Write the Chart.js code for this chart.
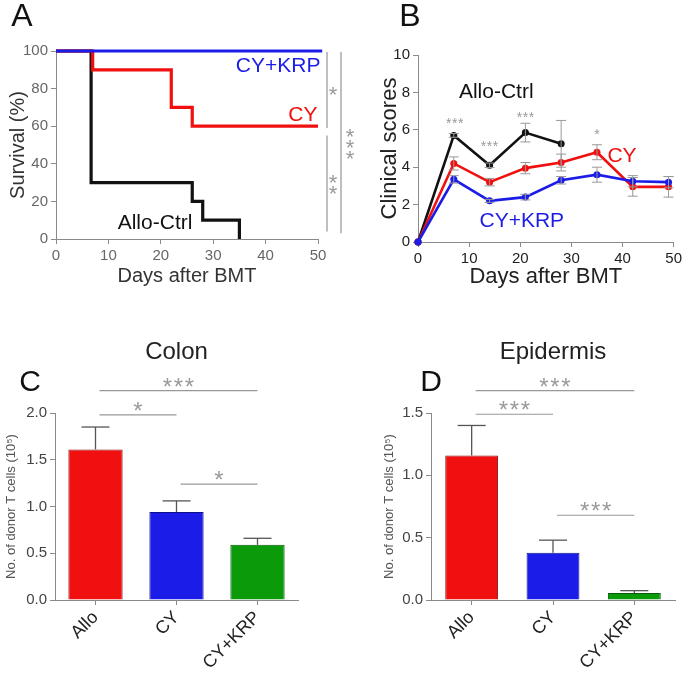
<!DOCTYPE html>
<html lang="en">
<head>
    <meta charset="UTF-8">
    <title>Survival, clinical scores and donor T cells</title>
    <script src="https://cdn.jsdelivr.net/npm/chart.js@4.4.1/dist/chart.umd.min.js"></script>
    <style>
        body { margin: 0; background: #fff; }
        .panel { position: absolute; }
    </style>
</head>
<body>
    <div class="panel" style="left:0;top:0;width:370px;height:290px"><canvas id="chartA"></canvas></div>
    <div class="panel" style="left:370px;top:0;width:315px;height:290px"><canvas id="chartB"></canvas></div>
    <div class="panel" style="left:0;top:320px;width:340px;height:355px"><canvas id="chartC"></canvas></div>
    <div class="panel" style="left:340px;top:320px;width:345px;height:355px"><canvas id="chartD"></canvas></div>

<script>
// ---- data ----
// A: survival (Kaplan-Meier steps)
const survKrpDays = [0, 50.8];
const survKrpPct = [100, 100];
const survCyDays = [0, 7, 22, 26, 50];
const survCyPct = [100, 90, 70, 60, 60];
const survAlloDays = [0, 6.7, 26, 28, 35];
const survAlloPct = [100, 30, 20, 10, 0];
// significance bars on the right of A: [from %, to %, stars, lane]
const survSig = [[99.5, 59, 1, 0], [55, 4, 2, 0], [99.5, 3, 3, 1]];

// B: clinical scores
const scoreDays = [0, 7, 14, 21, 28, 35, 42, 49];
const scoreAllo = [0, 5.7, 4.1, 5.85, 5.25];
const scoreAlloErr = [0, 0.1, 0.12, 0.5, 1.25];
const scoreCy = [0, 4.2, 3.2, 3.95, 4.25, 4.8, 2.95, 2.95];
const scoreCyErr = [0, 0.35, 0.2, 0.3, 0.45, 0.4, 0.5, 0.55];
const scoreKrp = [0, 3.35, 2.2, 2.4, 3.3, 3.6, 3.25, 3.2];
const scoreKrpErr = [0, 0.2, 0.08, 0.15, 0.2, 0.4, 0.3, 0.3];
const scoreStarDays = [7.2, 14, 21, 35];
const scoreStarLevel = [6.5, 5.3, 6.85, 5.9];
const scoreStarCount = [3, 3, 3, 1];

// C / D: donor T cells
const groups = ['Allo', 'CY', 'CY+KRP'];
const colonMean = [1.61, 0.94, 0.59];
const colonSem = [0.24, 0.12, 0.07];
const epiMean = [1.16, 0.38, 0.057];
const epiSem = [0.24, 0.10, 0.018];
// brackets: [group from, group to, level, stars]
const colonSig = [[0, 2, 2.24, 3], [0, 1, 1.98, 1], [1, 2, 1.24, 1]];
const epiSig = [[0, 2, 1.68, 3], [0, 1, 1.49, 3], [1, 2, 0.68, 3]];

// ---- styling ----
const FONT = 'Arial, "Liberation Sans", Helvetica, sans-serif';
const RED = '#f01010';
const BLUE = '#1c1ce8';
const BLACK = '#111';
const GREEN = '#0a9a0a';
const AXIS = '#8a8a8a';
const STAR = '#9a9a9a';

function pts(xs, ys) {
    return xs.map((x, i) => ({ x: x, y: ys[i] }));
}

function text(ctx, s, x, y, size, color, align, base) {
    ctx.save();
    ctx.font = size + 'px ' + FONT;
    ctx.fillStyle = color;
    ctx.textAlign = align || 'center';
    ctx.textBaseline = base || 'middle';
    ctx.fillText(s, x, y);
    ctx.restore();
}

// draws n asterisks centred on (cx, cy), in a row or a column
function stars(ctx, n, cx, cy, size, gap, vertical) {
    ctx.save();
    ctx.font = size + 'px ' + FONT;
    ctx.fillStyle = STAR;
    ctx.textAlign = 'center';
    ctx.textBaseline = 'alphabetic';
    for (let i = 0; i < n; i++) {
        const off = (i - (n - 1) / 2) * gap;
        const x = vertical ? cx : cx + off;
        const y = vertical ? cy + off : cy;
        ctx.fillText('*', x, y + size * 0.55);
    }
    ctx.restore();
}

function hline(ctx, x1, x2, y, color, w) {
    ctx.save();
    ctx.strokeStyle = color;
    ctx.lineWidth = w || 1;
    ctx.beginPath();
    ctx.moveTo(x1, y);
    ctx.lineTo(x2, y);
    ctx.stroke();
    ctx.restore();
}

function vline(ctx, x, y1, y2, color, w) {
    ctx.save();
    ctx.strokeStyle = color;
    ctx.lineWidth = w || 1;
    ctx.beginPath();
    ctx.moveTo(x, y1);
    ctx.lineTo(x, y2);
    ctx.stroke();
    ctx.restore();
}

function axisTicks(size, color) {
    return { font: { family: FONT, size: size }, color: color, padding: 3 };
}

function axisGrid() {
    return { drawOnChartArea: false, drawTicks: true, tickLength: 5, color: AXIS, lineWidth: 1 };
}

const base = {
    responsive: true,
    maintainAspectRatio: false,
    animation: false,
    events: [],
    plugins: { legend: { display: false }, tooltip: { enabled: false } }
};

// ---- A: survival ----
new Chart(document.getElementById('chartA'), {
    type: 'line',
    data: {
        datasets: [
            { data: pts(survKrpDays, survKrpPct), borderColor: BLUE, stepped: 'before', clip: false },
            { data: pts(survCyDays, survCyPct), borderColor: RED, stepped: 'before', clip: false },
            { data: pts(survAlloDays, survAlloPct), borderColor: BLACK, stepped: 'before', clip: false }
        ]
    },
    options: Object.assign({}, base, {
        layout: { padding: { left: 0, right: 52, top: 51, bottom: 0 } },
        elements: { point: { radius: 0 }, line: { borderWidth: 3.2, tension: 0 } },
        scales: {
            x: {
                type: 'linear', min: 0, max: 50,
                ticks: Object.assign(axisTicks(15, '#666'), { stepSize: 10 }),
                grid: axisGrid(),
                border: { color: AXIS },
                title: { display: true, text: 'Days after BMT', color: '#333', font: { family: FONT, size: 20 }, padding: { top: 0, bottom: 2 } },
                afterFit: s => { s.height = 51; }
            },
            y: {
                min: 0, max: 100,
                ticks: Object.assign(axisTicks(15, '#666'), { stepSize: 20 }),
                grid: axisGrid(),
                border: { color: AXIS },
                title: { display: true, text: 'Survival (%)', color: '#333', font: { family: FONT, size: 20 }, padding: { top: 6, bottom: 0 } },
                afterFit: s => { s.width = 56; }
            }
        }
    }),
    plugins: [{
        id: 'decorA',
        afterDraw(chart) {
            const ctx = chart.ctx, xs = chart.scales.x, ys = chart.scales.y;
            const right = chart.chartArea.right;
            text(ctx, 'A', 22, 17, 32, '#111');
            text(ctx, 'CY+KRP', xs.getPixelForValue(42.4), ys.getPixelForValue(92), 21, BLUE);
            text(ctx, 'CY', xs.getPixelForValue(47.1), ys.getPixelForValue(66), 21, RED);
            text(ctx, 'Allo-Ctrl', xs.getPixelForValue(18.9), ys.getPixelForValue(8.5), 21, BLACK);
            survSig.forEach(([from, to, n, lane]) => {
                const x = right + 9 + lane * 14;
                const y1 = ys.getPixelForValue(from), y2 = ys.getPixelForValue(to);
                vline(ctx, x, y1, y2, '#aaa', 1.5);
                stars(ctx, n, x + 6 + lane * 3, (y1 + y2) / 2, 22, 11, true);
            });
        }
    }]
});

// ---- B: clinical scores ----
const errBarsB = {
    id: 'errB',
    afterDatasetsDraw(chart) {
        const ctx = chart.ctx, ys = chart.scales.y;
        chart.data.datasets.forEach((ds, di) => {
            const meta = chart.getDatasetMeta(di);
            meta.data.forEach((pt, i) => {
                const e = ds.errs[i];
                if (!e) return;
                const v = ds.data[i].y;
                const top = ys.getPixelForValue(v + e), bot = ys.getPixelForValue(v - e);
                vline(ctx, pt.x, top, bot, '#999', 1);
                hline(ctx, pt.x - 5, pt.x + 5, top, '#999', 1);
                hline(ctx, pt.x - 5, pt.x + 5, bot, '#999', 1);
            });
        });
    }
};

new Chart(document.getElementById('chartB'), {
    type: 'line',
    data: {
        datasets: [
            { data: pts(scoreDays, scoreKrp), errs: scoreKrpErr, borderColor: BLUE, backgroundColor: BLUE, clip: false },
            { data: pts(scoreDays, scoreCy), errs: scoreCyErr, borderColor: RED, backgroundColor: RED, clip: false },
            { data: pts(scoreDays.slice(0, scoreAllo.length), scoreAllo), errs: scoreAlloErr, borderColor: BLACK, backgroundColor: BLACK, clip: false }
        ]
    },
    options: Object.assign({}, base, {
        layout: { padding: { left: 0, right: 9, top: 55, bottom: 0 } },
        elements: { point: { radius: 3.5, borderWidth: 0 }, line: { borderWidth: 2.6, tension: 0 } },
        scales: {
            x: {
                type: 'linear', min: 0, max: 50,
                ticks: Object.assign(axisTicks(15, '#222'), { stepSize: 10 }),
                grid: axisGrid(),
                border: { color: AXIS },
                title: { display: true, text: 'Days after BMT', color: '#222', font: { family: FONT, size: 22 }, padding: { top: 0, bottom: 0 } },
                afterFit: s => { s.height = 48; }
            },
            y: {
                min: 0, max: 10,
                ticks: Object.assign(axisTicks(15, '#222'), { stepSize: 2 }),
                grid: axisGrid(),
                border: { color: AXIS },
                title: { display: true, text: 'Clinical scores', color: '#222', font: { family: FONT, size: 22 }, padding: { top: 7, bottom: 0 } },
                afterFit: s => { s.width = 48; }
            }
        }
    }),
    plugins: [errBarsB, {
        id: 'decorB',
        afterDraw(chart) {
            const ctx = chart.ctx, xs = chart.scales.x, ys = chart.scales.y;
            text(ctx, 'B', 40, 17, 32, '#111');
            text(ctx, 'Allo-Ctrl', xs.getPixelForValue(15.3), ys.getPixelForValue(8.0), 21, BLACK);
            text(ctx, 'CY', xs.getPixelForValue(39.9), ys.getPixelForValue(4.6), 21, RED);
            text(ctx, 'CY+KRP', xs.getPixelForValue(20.3), ys.getPixelForValue(1.1), 21, BLUE);
            scoreStarDays.forEach((d, i) => {
                stars(ctx, scoreStarCount[i], xs.getPixelForValue(d), ys.getPixelForValue(scoreStarLevel[i]), 14, 6, false);
            });
        }
    }]
});

// ---- C / D: bar charts ----
function barChart(id, means, sems, yMax, sig, letter, letterX, title, padLeft, yWidth, padRight, barPct) {
    return new Chart(document.getElementById(id), {
        type: 'bar',
        data: {
            labels: groups,
            datasets: [{
                data: means,
                backgroundColor: [RED, BLUE, GREEN],
                borderColor: ['#8a1010', '#10108a', '#0a5a0a'],
                borderWidth: 1,
                categoryPercentage: 1,
                barPercentage: barPct
            }]
        },
        options: Object.assign({}, base, {
            layout: { padding: { left: padLeft, right: padRight, top: 93, bottom: 0 } },
            scales: {
                x: {
                    ticks: Object.assign(axisTicks(18, '#222'), { minRotation: 45, maxRotation: 45, padding: 2 }),
                    grid: Object.assign(axisGrid(), { offset: false }),
                    border: { color: AXIS },
                    afterFit: s => { s.height = 75; }
                },
                y: {
                    min: 0, max: yMax,
                    ticks: Object.assign(axisTicks(15, '#444'), { stepSize: 0.5, callback: v => v.toFixed(1) }),
                    grid: axisGrid(),
                    border: { color: AXIS },
                    title: { display: true, text: 'No. of donor T cells (10\u2075)', color: '#555', font: { family: FONT, size: 13 }, padding: { top: 4, bottom: 0 } },
                    afterFit: s => { s.width = yWidth; }
                }
            }
        }),
        plugins: [{
            id: 'decor' + letter,
            afterDatasetsDraw(chart) {
                const ctx = chart.ctx, ys = chart.scales.y;
                const meta = chart.getDatasetMeta(0);
                meta.data.forEach((bar, i) => {
                    const top = ys.getPixelForValue(means[i] + sems[i]);
                    const y0 = ys.getPixelForValue(means[i]);
                    vline(ctx, bar.x, y0, top, '#555', 1.3);
                    hline(ctx, bar.x - 14, bar.x + 14, top, '#555', 1.3);
                });
            },
            afterDraw(chart) {
                const ctx = chart.ctx, xs = chart.scales.x, ys = chart.scales.y;
                const area = chart.chartArea;
                text(ctx, letter, letterX, 63, 30, '#111');
                text(ctx, title, (area.left + area.right) / 2, 32, 24, '#222');
                sig.forEach(([a, b, level, n]) => {
                    const x1 = xs.getPixelForValue(a) + 4, x2 = xs.getPixelForValue(b);
                    const y = ys.getPixelForValue(level);
                    hline(ctx, x1, x2, y, '#999', 1.2);
                    stars(ctx, n, (x1 + x2) / 2, y - 9, 24, 11, false);
                });
            }
        }]
    });
}

barChart('chartC', colonMean, colonSem, 2.0, colonSig, 'C', 30, 'Colon', 0, 55, 42, 0.67);
barChart('chartD', epiMean, epiSem, 1.5, epiSig, 'D', 91, 'Epidermis', 38, 53, 10, 0.65);
</script>
</body>
</html>
